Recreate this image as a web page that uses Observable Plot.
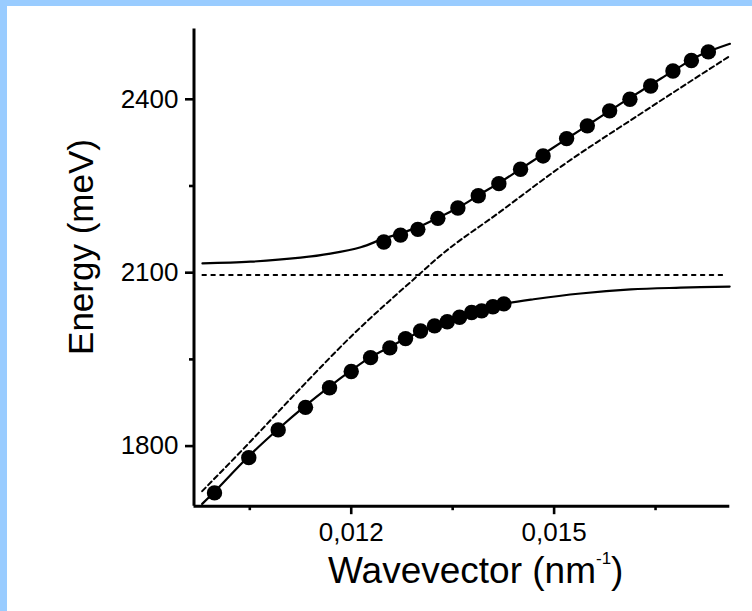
<!DOCTYPE html>
<html><head><meta charset="utf-8">
<script src="https://cdn.jsdelivr.net/npm/d3@7"></script>
<script src="https://cdn.jsdelivr.net/npm/@observablehq/plot@0.6"></script>
<style>
html,body{margin:0;padding:0;background:#fff;}
#wrap{position:relative;width:752px;height:611px;overflow:hidden;background:#fff;}
#wrap svg{position:absolute;left:0;top:0;}
.band{position:absolute;background:#99ccff;}
</style></head><body>
<div id="wrap"><div class="band" style="left:0;top:0;width:752px;height:6px"></div><div class="band" style="left:0;top:0;width:7px;height:611px"></div></div>
<script>
// Measured data points (wavevector nm^-1, energy meV)
const lowerK = [0.009978, 0.010485, 0.010920, 0.011324, 0.011679, 0.012000, 0.012286, 0.012571, 0.012803, 0.013025, 0.013232, 0.013420, 0.013602, 0.013780, 0.013928, 0.014095, 0.014257];
const lowerE = [1719, 1780, 1828, 1867, 1901, 1929, 1953, 1970, 1986, 1999, 2008, 2015, 2023, 2031, 2034, 2041, 2046];
const upperK = [0.012482, 0.012729, 0.012985, 0.013281, 0.013577, 0.013879, 0.014183, 0.014504, 0.014837, 0.015185, 0.015491, 0.015821, 0.016121, 0.016428, 0.016757, 0.017030, 0.017281];
const upperE = [2153, 2165, 2175, 2194, 2212, 2233, 2254, 2279, 2302, 2332, 2354, 2380, 2400, 2423, 2449, 2467, 2482];
// Fitted curves
const upFitK = [0.00980, 0.01051, 0.01125, 0.01169, 0.01214, 0.01248, 0.01273, 0.01303, 0.01332, 0.01362, 0.01391, 0.01421, 0.01451, 0.01480, 0.01510, 0.01539, 0.01569, 0.01598, 0.01628, 0.01658, 0.01687, 0.01717, 0.01760];
const upFitE = [2116, 2119, 2126, 2133, 2144, 2159, 2168, 2181, 2197, 2215, 2236, 2257, 2280, 2302, 2325, 2347, 2370, 2392, 2414, 2436, 2457, 2477, 2496];
const lowFitK = [0.009796, 0.009978, 0.010481, 0.010925, 0.011324, 0.011679, 0.012000, 0.012286, 0.012581, 0.012803, 0.013025, 0.013232, 0.013425, 0.013602, 0.013780, 0.013928, 0.014090, 0.014253, 0.014697, 0.015392, 0.016132, 0.016871, 0.017596];
const lowFitE = [1700, 1721, 1782, 1830, 1870, 1903, 1931, 1954, 1972, 1986, 1998, 2008, 2016, 2024, 2031, 2036, 2041, 2046, 2054, 2064, 2071, 2074, 2076];
// Uncoupled photon (dashed) and exciton (dotted)
const photK = [0.009796, 0.010510, 0.011250, 0.012089, 0.012581, 0.012976, 0.013272, 0.014209, 0.015096, 0.016280, 0.017586];
const photE = [1722, 1808, 1900, 2000, 2053, 2094, 2125, 2206, 2283, 2375, 2474];
const excK = [0.00980, 0.01749];
const excE = 2096;
// Axes
const xDomain = [0.009675, 0.017598];
const yDomain = [1696, 2521.6];
const xMajor = [0.012, 0.015];
const xMinor = [0.0105, 0.0135, 0.0165];
const yMajor = [1800, 2100, 2400];
const yMinor = [1950, 2250];

const zip = (ks, es) => ks.map((k, i) => ({k, e: Array.isArray(es) ? es[i] : es}));
const lowerPts = zip(lowerK, lowerE), upperPts = zip(upperK, upperE);
const upFit = zip(upFitK, upFitE), lowFit = zip(lowFitK, lowFitE);
const phot = zip(photK, photE), exc = zip(excK, excE);

const FONT = "'Liberation Sans', Arial, Helvetica, sans-serif";
const svg = Plot.plot({
  width: 752, height: 611,
  marginLeft: 193.5, marginRight: 22.7, marginTop: 28.5, marginBottom: 105.3,
  style: {fontFamily: FONT, background: "white", color: "black"},
  x: {domain: xDomain},
  y: {domain: yDomain},
  marks: [
    Plot.line(exc, {x: "k", y: "e", stroke: "black", strokeWidth: 2, strokeDasharray: "3.5,5.4"}),
    Plot.line(phot, {x: "k", y: "e", stroke: "black", strokeWidth: 2, strokeDasharray: "5,3.5", curve: "monotone-x"}),
    Plot.line(upFit, {x: "k", y: "e", stroke: "black", strokeWidth: 2.2, curve: "catmull-rom"}),
    Plot.line(lowFit, {x: "k", y: "e", stroke: "black", strokeWidth: 2.2, curve: "catmull-rom"}),
    Plot.dot(lowerPts, {x: "k", y: "e", r: 7.7, fill: "black"}),
    Plot.dot(upperPts, {x: "k", y: "e", r: 7.7, fill: "black"}),
    Plot.ruleY([yDomain[0]], {stroke: "black", strokeWidth: 3}),
    Plot.ruleX([xDomain[0]], {stroke: "black", strokeWidth: 3}),
    Plot.axisX(xMajor, {tickSize: 8.5, tickPadding: 8, strokeWidth: 2.6, fontSize: 26, label: null,
      tickFormat: d => d3.format(".3f")(d).replace(".", ",")}),
    Plot.axisX(xMinor, {tickSize: 4.5, strokeWidth: 2.6, fill: "none", label: null}),
    Plot.axisY(yMajor, {tickSize: 8.5, tickPadding: 7, strokeWidth: 2.6, fontSize: 26, label: null,
      tickFormat: d3.format("d")}),
    Plot.axisY(yMinor, {tickSize: 4.5, strokeWidth: 2.6, fill: "none", label: null})
  ]
});
const wrap = document.getElementById("wrap");
wrap.insertBefore(svg, wrap.firstChild);
const s = d3.select(svg);
s.append("text").attr("transform", "translate(93,247) rotate(-90)").attr("text-anchor", "middle")
  .attr("font-size", 35).attr("fill", "black").attr("font-family", FONT).text("Energy (meV)");
const xl = s.append("text").attr("x", 328).attr("y", 583).attr("text-anchor", "start")
  .attr("font-size", 37).attr("fill", "black").attr("font-family", FONT);
xl.append("tspan").text("Wavevector (nm");
xl.append("tspan").attr("font-size", 17).attr("dy", -19).text("-1");
xl.append("tspan").attr("dy", 19).text(")");
</script>
</body></html>
